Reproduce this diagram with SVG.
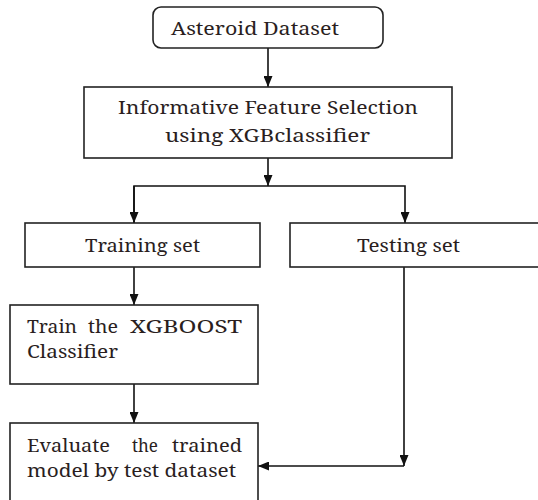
<svg xmlns="http://www.w3.org/2000/svg" width="538" height="500" viewBox="0 0 538 500">
<style>
.box{fill:#fff;stroke:#222;stroke-width:1.6}
.t{font-family:'Noto Serif','Liberation Serif',serif;font-size:18.5px;fill:#2a1e1e}
.ln{fill:none;stroke:#111;stroke-width:1.6}
</style>
<defs>
<marker id="ah" viewBox="0 0 10 10" refX="10" refY="5" markerWidth="11" markerHeight="9" markerUnits="userSpaceOnUse" orient="auto" preserveAspectRatio="none">
<path d="M0,0 L10,5 L0,10 z" fill="#111"/>
</marker>
</defs>
<rect width="538" height="500" fill="#fff"/>
<g id="connectors">
<path class="ln" d="M268,48 V87" marker-end="url(#ah)"/>
<path class="ln" d="M268,158 V186" marker-end="url(#ah)"/>
<path class="ln" d="M134,223 V186 H405 V223" marker-end="url(#ah)"/>
<path class="ln" d="M134,186 V223" marker-end="url(#ah)"/>
<path class="ln" d="M134,267 V305" marker-end="url(#ah)"/>
<path class="ln" d="M134,384 V423" marker-end="url(#ah)"/>
<path class="ln" d="M404,267 V466" marker-end="url(#ah)"/>
<path class="ln" d="M404,466 H258" marker-end="url(#ah)"/>
</g>
<g id="asteroid">
<rect class="box" x="153" y="7" width="230" height="41" rx="8"/>
<text class="t" x="171" y="35" textLength="168" lengthAdjust="spacingAndGlyphs">Asteroid Dataset</text>
</g>
<g id="feature">
<rect class="box" x="84" y="87" width="368" height="71"/>
<text class="t" x="118" y="114" textLength="300" lengthAdjust="spacingAndGlyphs">Informative Feature Selection</text>
<text class="t" x="165" y="142" textLength="205" lengthAdjust="spacingAndGlyphs">using XGBclassifier</text>
</g>
<g id="training">
<rect class="box" x="25" y="223" width="235" height="44"/>
<text class="t" x="85" y="252" textLength="115" lengthAdjust="spacingAndGlyphs">Training set</text>
</g>
<g id="testing">
<rect class="box" x="290" y="223" width="260" height="44"/>
<text class="t" x="357" y="252" textLength="103" lengthAdjust="spacingAndGlyphs">Testing set</text>
</g>
<g id="train">
<rect class="box" x="10" y="305" width="248" height="79"/>
<text class="t" y="333"><tspan x="27" textLength="50" lengthAdjust="spacingAndGlyphs">Train</tspan> <tspan x="88" textLength="30" lengthAdjust="spacingAndGlyphs">the</tspan> <tspan x="130" textLength="112" lengthAdjust="spacingAndGlyphs">XGBOOST</tspan></text>
<text class="t" x="27" y="358" textLength="91" lengthAdjust="spacingAndGlyphs">Classifier</text>
</g>
<g id="evaluate">
<rect class="box" x="10" y="423" width="248" height="90"/>
<text class="t" y="452"><tspan x="27" textLength="83" lengthAdjust="spacingAndGlyphs">Evaluate</tspan> <tspan x="132" textLength="26" lengthAdjust="spacingAndGlyphs">the</tspan> <tspan x="172" textLength="70" lengthAdjust="spacingAndGlyphs">trained</tspan></text>
<text class="t" x="27" y="477" textLength="209" lengthAdjust="spacingAndGlyphs">model by test dataset</text>
</g>
</svg>
